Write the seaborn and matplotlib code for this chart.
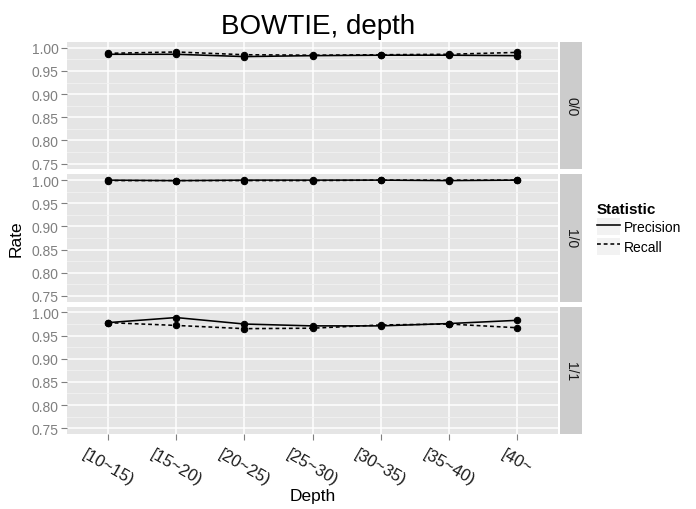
import numpy as np
import pandas as pd
import matplotlib
matplotlib.use("Agg")
import matplotlib.pyplot as plt
import seaborn as sns
from matplotlib.lines import Line2D
from matplotlib.patches import Rectangle
from matplotlib.legend_handler import HandlerTuple

# ---- data -------------------------------------------------------------
depth_bins = ["[10~15)", "[15~20)", "[20~25)", "[25~30)", "[30~35)", "[35~40)", "[40~"]
groups = ["0/0", "1/0", "1/1"]
statistics = ["Precision", "Recall"]

precision_00 = [0.986, 0.986, 0.981, 0.983, 0.984, 0.984, 0.983]
recall_00 = [0.988, 0.991, 0.985, 0.984, 0.985, 0.986, 0.990]
precision_10 = [1.000, 0.999, 1.000, 1.000, 1.000, 0.999, 1.000]
recall_10 = [0.999, 0.999, 0.999, 0.999, 1.000, 1.000, 1.000]
precision_11 = [0.978, 0.989, 0.975, 0.971, 0.971, 0.976, 0.983]
recall_11 = [0.978, 0.972, 0.965, 0.966, 0.973, 0.975, 0.967]

y_ticks = [0.75, 0.80, 0.85, 0.90, 0.95, 1.00]

series = {
    ("0/0", "Precision"): precision_00, ("0/0", "Recall"): recall_00,
    ("1/0", "Precision"): precision_10, ("1/0", "Recall"): recall_10,
    ("1/1", "Precision"): precision_11, ("1/1", "Recall"): recall_11,
}
rows = []
for (g, s), vals in series.items():
    for d, v in zip(depth_bins, vals):
        rows.append({"Group": g, "Statistic": s, "Depth": d, "Rate": v})
df = pd.DataFrame(rows)

# ---- style ------------------------------------------------------------
plt.rcParams["font.family"] = ["Liberation Sans", "DejaVu Sans"]
W, H = 696, 510
fig = plt.figure(figsize=(W / 100, H / 100), dpi=100)

def fx(px):
    return px / W

def fy(px):
    return 1 - px / H

panel_left, panel_right = 67, 558
strip_left, strip_right = 560, 582
top, bottom, gap = 43, 435, 5
ph = (bottom - top - 2 * gap) / 3

grid_major = "white"
grid_minor = "#F2F2F2"
panel_bg = "#E5E5E5"
tick_grey = "#7F7F7F"
dash = (2.4, 1.8)

for i, g in enumerate(groups):
    t = top + i * (ph + gap)
    ax = fig.add_axes([fx(panel_left), fy(t + ph), fx(panel_right - panel_left), ph / H])
    ax.set_facecolor(panel_bg)
    sns.lineplot(
        data=df[df["Group"] == g], x="Depth", y="Rate",
        style="Statistic", style_order=statistics,
        dashes={"Precision": "", "Recall": dash},
        markers={"Precision": "o", "Recall": "o"},
        color="black", markersize=4.6, markeredgecolor="black",
        linewidth=1.15, legend=False, errorbar=None, ax=ax,
    )
    ax.set_xlim(-0.6, len(depth_bins) - 0.4)
    ax.set_ylim(0.7375, 1.0125)
    ax.set_yticks(y_ticks)
    ax.set_yticklabels([f"{v:.2f}" for v in y_ticks])
    ax.set_yticks([0.775, 0.825, 0.875, 0.925, 0.975], minor=True)
    ax.set_xticks(range(len(depth_bins)))
    ax.grid(which="major", color=grid_major, linewidth=1.1)
    ax.grid(which="minor", axis="y", color=grid_minor, linewidth=0.6)
    ax.set_axisbelow(True)
    for sp in ax.spines.values():
        sp.set_visible(False)
    ax.tick_params(axis="y", which="major", length=4, width=0.8, color=tick_grey,
                   labelcolor=tick_grey, labelsize=10, pad=2)
    ax.tick_params(which="minor", length=0)
    ax.set_xlabel("")
    ax.set_ylabel("")
    if i == len(groups) - 1:
        ax.set_xticklabels(depth_bins, rotation=-30, ha="center", va="top",
                           rotation_mode="default")
        ax.tick_params(axis="x", length=4, width=0.8, color=tick_grey,
                       labelcolor="#1A1A1A", labelsize=12, pad=5)
    else:
        ax.set_xticklabels([])
        ax.tick_params(axis="x", length=0)

    sax = fig.add_axes([fx(strip_left), fy(t + ph), fx(strip_right - strip_left), ph / H])
    sax.set_facecolor("#CCCCCC")
    sax.set_xticks([])
    sax.set_yticks([])
    for sp in sax.spines.values():
        sp.set_visible(False)
    sax.text(0.5, 0.5, g, rotation=-90, ha="center", va="center",
             color="#1A1A1A", fontsize=10, transform=sax.transAxes)

# ---- titles -----------------------------------------------------------
fig.text(fx(318), fy(34), "BOWTIE, depth", ha="center", va="baseline", fontsize=20)
fig.text(fx(16), fy(239), "Rate", rotation=90, ha="center", va="center", fontsize=12.5)
fig.text(fx(313), fy(497), "Depth", ha="center", va="center", fontsize=12.5)

# ---- legend -----------------------------------------------------------
def key_bg():
    return Rectangle((0, 0), 1, 1, facecolor="#F2F2F2", edgecolor="none")

handles = [
    (key_bg(), Line2D([], [], color="black", linewidth=1.15)),
    (key_bg(), Line2D([], [], color="black", linewidth=1.15, linestyle=(0, dash))),
]
fig.legend(
    handles, statistics, handler_map={tuple: HandlerTuple(ndivide=1, pad=0)},
    title="Statistic", loc="upper left", bbox_to_anchor=(fx(597), fy(203)),
    frameon=False, alignment="left", fontsize=10,
    title_fontproperties={"weight": "bold", "size": 11},
    handlelength=1.65, handleheight=1.55, labelspacing=0.15, handletextpad=0.3,
    borderpad=0, borderaxespad=0,
)

fig.savefig("out.png", dpi=100)
